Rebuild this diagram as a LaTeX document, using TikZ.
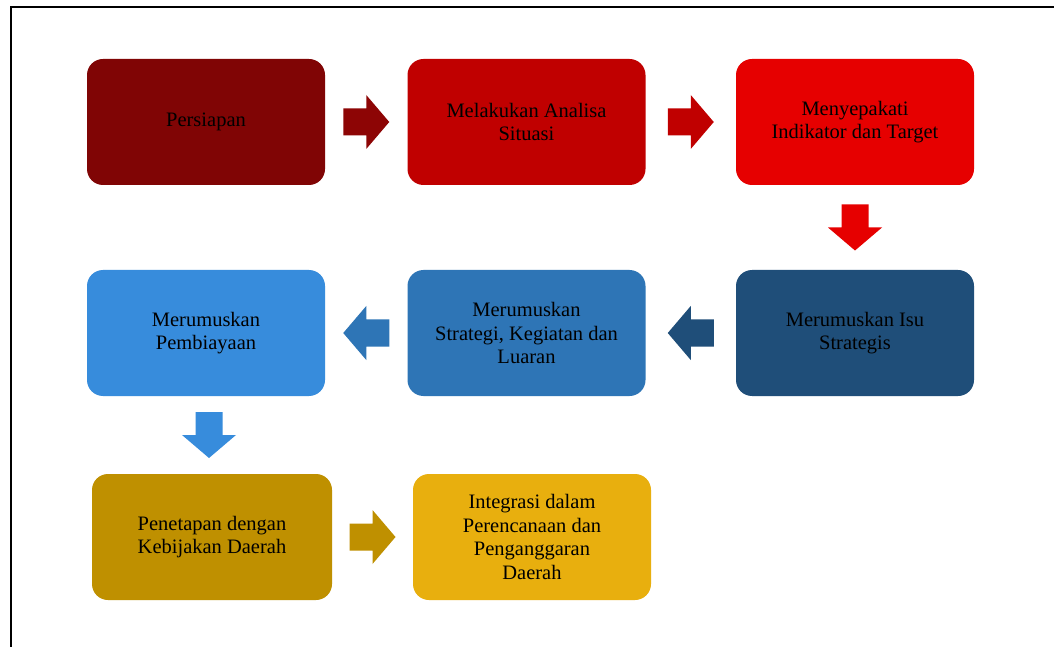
\documentclass[tikz,border=0pt]{standalone}
\usepackage{fontspec}
\setmainfont{Liberation Serif}
\usetikzlibrary{calc}
\definecolor{persiapan}{RGB}{128,5,5}
\definecolor{analisa}{RGB}{192,0,0}
\definecolor{indikator}{RGB}{230,0,0}
\definecolor{isu}{RGB}{31,78,121}
\definecolor{strategi}{RGB}{46,117,182}
\definecolor{pembiayaan}{RGB}{55,140,220}
\definecolor{penetapan}{RGB}{191,144,0}
\definecolor{integrasi}{RGB}{232,175,14}
\tikzset{
  stepbox/.style={rounded corners=16pt, minimum width=238pt, minimum height=126pt,
    align=center, text=black, font=\fontsize{20.5}{23.5}\selectfont}
}
\newcommand{\blockarrow}[4]{%
  \path ($(#2)!0.5!(#3)$) coordinate (mid);
  \fill[#1, shift={(mid)}, rotate=#4]
    (-23,-13.5) -- (0,-13.5) -- (0,-27) -- (23,0) -- (0,27) -- (0,13.5) -- (-23,13.5) -- cycle;}
\begin{document}
\begin{tikzpicture}[x=1pt,y=1pt]
      \clip (0,0) rectangle (1054,646);
      \fill[white] (0,0) rectangle (1054,646);
      \draw[line width=2pt] (10.5,639) rectangle (1090,-30);
      \path
        (206,524) node[stepbox, fill=persiapan] (persiapan) {Persiapan}
        (526.5,524) node[stepbox, fill=analisa] (analisa) {Melakukan Analisa\\Situasi}
        (855,524) node[stepbox, fill=indikator] (indikator) {Menyepakati\\Indikator dan Target}
        (855,313) node[stepbox, fill=isu] (isu) {Merumuskan Isu\\Strategis}
        (526.5,313) node[stepbox, fill=strategi] (strategi) {Merumuskan\\Strategi, Kegiatan dan\\Luaran}
        (206,313) node[stepbox, fill=pembiayaan] (pembiayaan) {Merumuskan\\Pembiayaan}
        (212,109) node[stepbox, fill=penetapan, minimum width=240pt] (penetapan) {Penetapan dengan\\Kebijakan Daerah}
        (532,109) node[stepbox, fill=integrasi] (integrasi) {Integrasi dalam\\Perencanaan dan\\Penganggaran\\Daerah};
      \blockarrow{persiapan!90!red}{persiapan.east}{analisa.west}{0}
      \blockarrow{analisa}{analisa.east}{indikator.west}{0}
      \blockarrow{indikator}{indikator.south}{isu.north}{-90}
      \blockarrow{isu}{isu.west}{strategi.east}{180}
      \blockarrow{strategi}{strategi.west}{pembiayaan.east}{180}
      \blockarrow{pembiayaan}{pembiayaan.south}{penetapan.north}{-90}
      \blockarrow{penetapan}{penetapan.east}{integrasi.west}{0}
    \end{tikzpicture}
\end{document}
